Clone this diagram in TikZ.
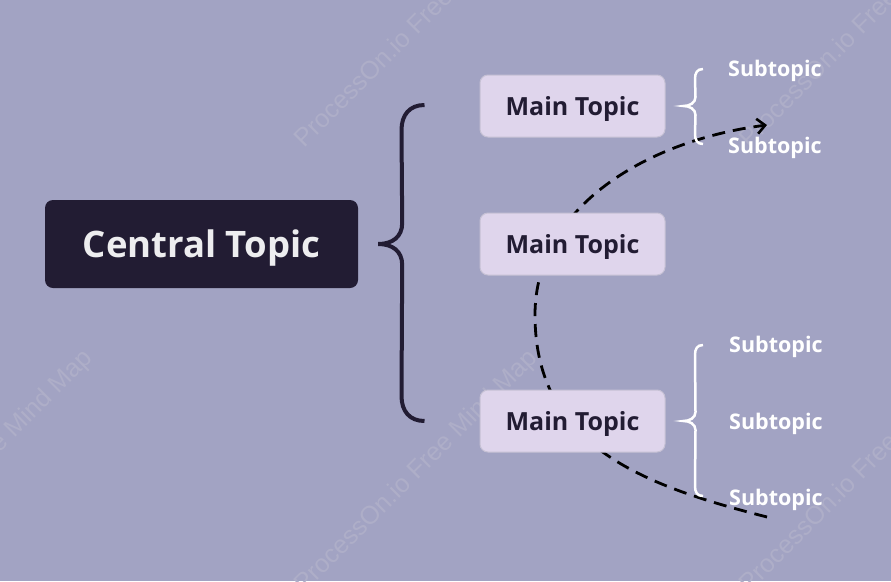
\documentclass[tikz,border=0pt]{standalone}
\usepackage{fontspec}
\setmainfont{Open Sans}
\newfontfamily\wmfont{Liberation Sans}
\usetikzlibrary{calc,arrows.meta}
\definecolor{bgc}{HTML}{A2A3C3}
\definecolor{wmc}{HTML}{AEAEC8}
\definecolor{darkc}{HTML}{221C33}
\definecolor{mainfill}{HTML}{DFD5EC}
\definecolor{mainline}{HTML}{C6C1D4}
\definecolor{centtext}{HTML}{EDEDEF}
\tikzset{
  central/.style={fill=darkc, rounded corners=8pt, minimum width=313pt, minimum height=88pt,
    inner sep=0pt, text depth=0pt, text=centtext, font=\bfseries\fontsize{36.5}{40}\selectfont},
  maintopic/.style={fill=mainfill, draw=mainline, line width=1pt, rounded corners=8pt,
    minimum width=185pt, minimum height=62pt, inner sep=0pt, text depth=0pt, text=darkc,
    font=\bfseries\fontsize{25}{28}\selectfont},
  subtopic/.style={anchor=west, inner sep=0pt, text depth=0pt, text=white,
    font=\bfseries\fontsize{21.5}{24}\selectfont},
  bigbrace/.style={draw=darkc, line width=4pt},
  smallbrace/.style={draw=white, line width=2.5pt},
  arcline/.style={draw=black, line width=2.8pt, dash pattern=on 13pt off 8pt,
    -{Straight Barb[length=8pt,width=15pt,line width=2.6pt]}},
  watermark/.style={anchor=base west, inner sep=0pt, text=wmc, rotate=45,
    font=\wmfont\fontsize{25.5}{30}\selectfont}
}
\begin{document}
\begin{tikzpicture}[x=1pt,y=-1pt]
\fill[bgc] (0,0) rectangle (891,581);
\useasboundingbox (0,0) rectangle (891,581);
% watermarks
\node[watermark] (w1) at (304,149) {ProcessOn.io Free Mind Map};
\node[watermark] (w2) at (749,149) {ProcessOn.io Free Mind Map};
\node[watermark] (w3) at (-141,594) {ProcessOn.io Free Mind Map};
\node[watermark] (w4) at (304,594) {ProcessOn.io Free Mind Map};
\node[watermark] (w5) at (749,594) {ProcessOn.io Free Mind Map};
% dashed arc
\coordinate (a0) at (767,517);
\coordinate (a1) at (767,125);
\draw[arcline] (a0) .. controls (641,485) and (535,445) .. (535,315)
  .. controls (535,205) and (650,140) .. (a1);
% nodes
\node[central] (central) at (201.5,244) {Central Topic};
\node[maintopic] (m1) at (572.5,106) {Main Topic};
\node[maintopic] (m2) at (572.5,244) {Main Topic};
\node[maintopic] (m3) at (572.5,421) {Main Topic};
\node[subtopic] (s1) at (728,68) {Subtopic};
\node[subtopic] (s2) at (728,145) {Subtopic};
\node[subtopic] (s3) at (729,344) {Subtopic};
\node[subtopic] (s4) at (729,421) {Subtopic};
\node[subtopic] (s5) at (729,497) {Subtopic};
% big brace
\coordinate (bc) at ($(central.east)+(20,0)$);
\coordinate (bt) at ($(m1.west)+(-55,-1)$);
\coordinate (bb) at ($(m3.west)+(-55,0)$);
\draw[bigbrace] (bt) .. controls +(-15,0) and +(0,-15) .. ($(bt)+(-23,25)$)
  -- ($(bc)+(24,-21)$) .. controls +(0,14) and +(14,0) .. (bc)
  .. controls +(14,0) and +(0,-14) .. ($(bc)+(24,21)$)
  -- ($(bb)+(-23,-25)$) .. controls +(0,15) and +(-15,0) .. (bb);
% small braces
\coordinate (t1) at ($(s1.west)+(-25,1)$);
\coordinate (c1) at ($(m1.east)+(18,0)$);
\coordinate (e1) at ($(s2.west)+(-25,-1)$);
\draw[smallbrace] (t1) .. controls +(-6,0) and +(0,-6) .. ($(t1)+(-8,10)$)
  -- ($(c1)+(12,-9)$) .. controls +(0,6) and +(6,0) .. (c1)
  .. controls +(6,0) and +(0,-6) .. ($(c1)+(12,9)$)
  -- ($(e1)+(-8,-10)$) .. controls +(0,6) and +(-6,0) .. (e1);
\coordinate (t2) at ($(s3.west)+(-26,1)$);
\coordinate (c2) at ($(m3.east)+(18,0)$);
\coordinate (e2) at ($(s5.west)+(-26,-1)$);
\draw[smallbrace] (t2) .. controls +(-6,0) and +(0,-6) .. ($(t2)+(-8,10)$)
  -- ($(c2)+(12,-9)$) .. controls +(0,6) and +(6,0) .. (c2)
  .. controls +(6,0) and +(0,-6) .. ($(c2)+(12,9)$)
  -- ($(e2)+(-8,-10)$) .. controls +(0,6) and +(-6,0) .. (e2);
\end{tikzpicture}
\end{document}
